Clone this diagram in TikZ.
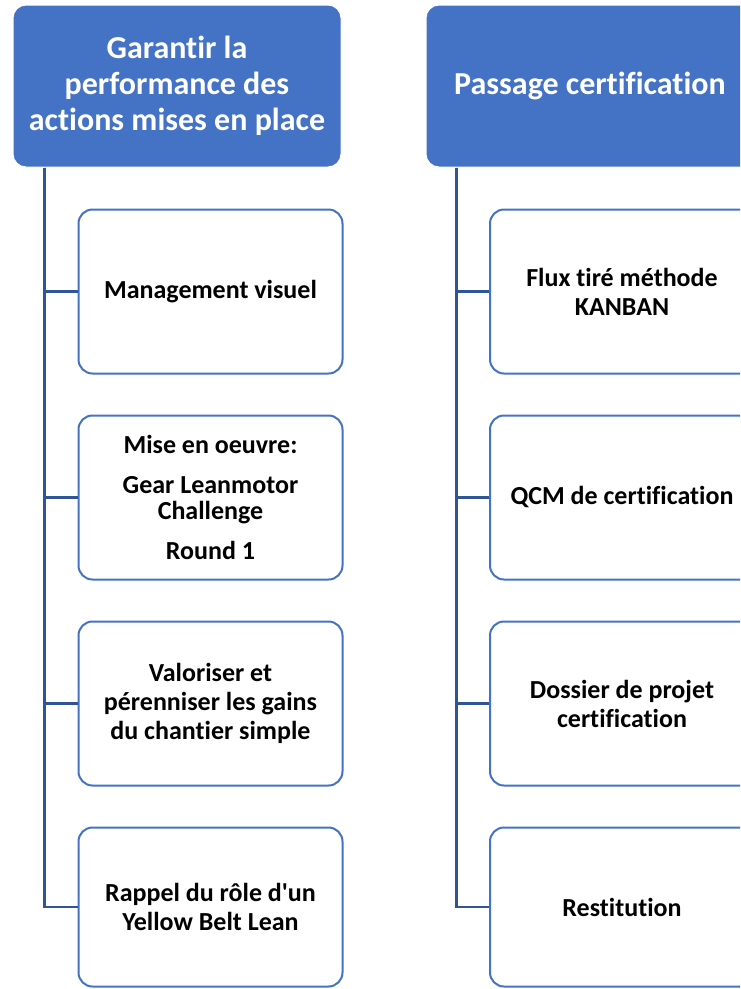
\documentclass[tikz,border=0pt]{standalone}
\usepackage{fontspec}
\setmainfont{Carlito}[Ligatures={NoCommon}]
\usepackage{tikz}
\usetikzlibrary{shapes,arrows}
\definecolor{hdrblue}{HTML}{4472C4}
\definecolor{linkblue}{HTML}{2F5597}

\begin{document}
\begin{tikzpicture}[x=1pt,y=-1pt,
  head/.style={rectangle,rounded corners=13pt,fill=hdrblue,draw=white,line width=1pt,
    minimum width=328pt,minimum height=162pt,align=center,text=white,
    font=\fontsize{32}{36}\selectfont\bfseries},
  item/.style={rectangle,rounded corners=14pt,fill=white,draw=hdrblue,line width=2pt,
    minimum width=264pt,minimum height=164pt,align=center,
    font=\fontsize{26}{29}\selectfont\bfseries},
  link/.style={draw=linkblue,line width=2.5pt}]
 \useasboundingbox (0,0) rectangle (740,989);
 \clip (0,0) rectangle (740,989);

 % Headers
 \node[head] (G) at (177,86) {Garantir la\\performance des\\actions mises en place};
 \node[head] (P) at (590,86) {Passage certification};

 % Left column
 \node[item] (G1) at (210.5,291.5) {Management visuel};
 \node[item,font=\fontsize{26}{26}\selectfont\bfseries] (G2) at (210.5,497.5)
   {Mise en oeuvre:\\[14pt]Gear Leanmotor\\Challenge\\[14pt]Round 1};
 \node[item] (G3) at (210.5,703.5) {Valoriser et\\pérenniser les gains\\du chantier simple};
 \node[item,minimum height=159pt] (G4) at (210.5,907) {Rappel du rôle d\textquotesingle un\\Yellow Belt Lean};

 % Right column
 \node[item] (P1) at (622,291.5) {Flux tiré méthode\\KANBAN};
 \node[item] (P2) at (622,497.5) {QCM de certification};
 \node[item] (P3) at (622,703.5) {Dossier de projet\\certification};
 \node[item,minimum height=159pt] (P4) at (622,907) {Restitution};

 % Links
 \foreach \n in {1,...,4}{
  \draw[link] ([xshift=32pt]G.south west) |- (G\n.west);
  \draw[link] ([xshift=31pt]P.south west) |- (P\n.west);
 }
\end{tikzpicture}
\end{document}
